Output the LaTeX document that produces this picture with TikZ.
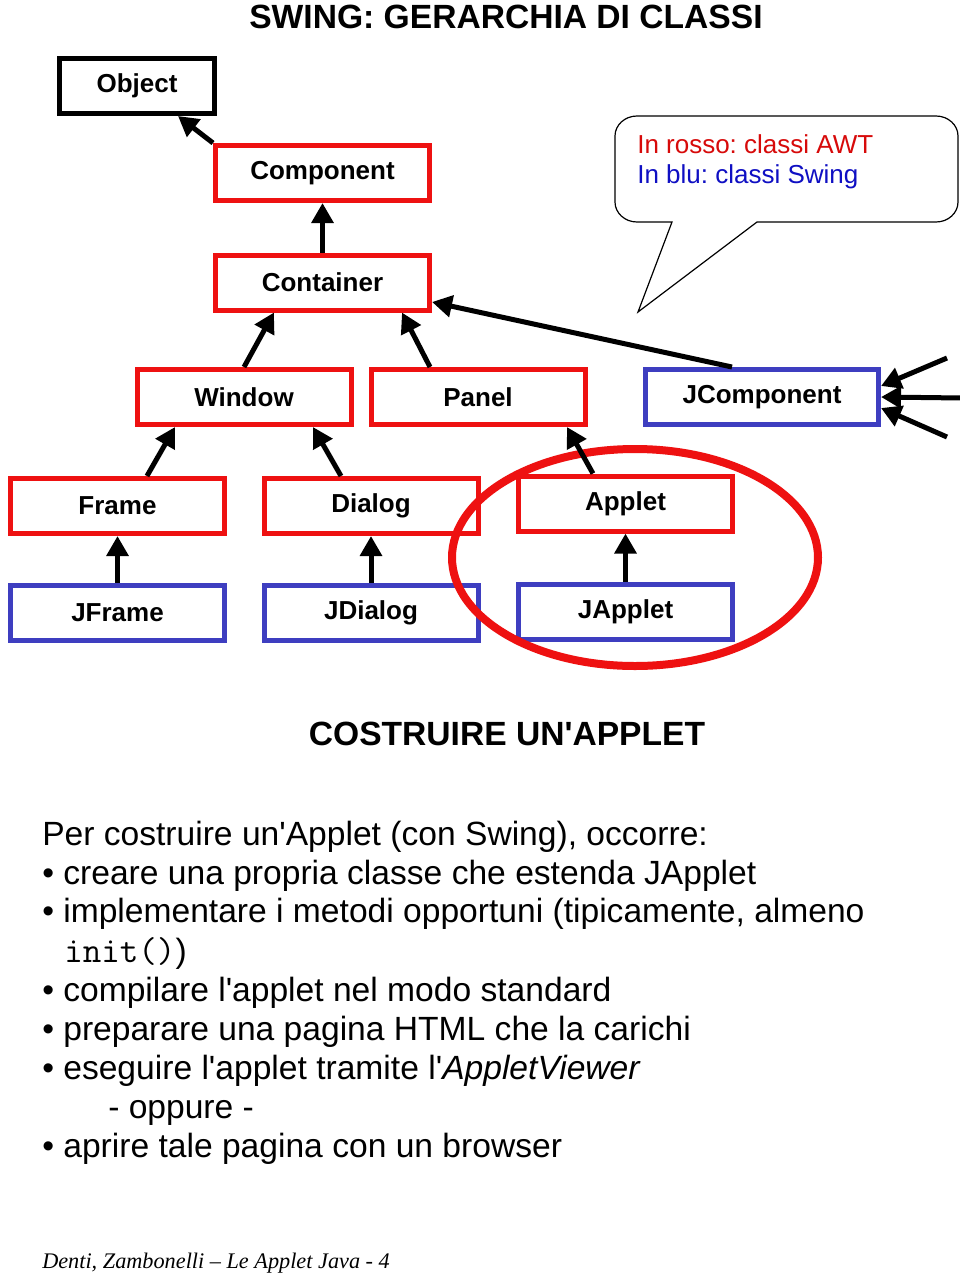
\documentclass[tikz,border=0pt]{standalone}
\usepackage{fontspec}
\setmainfont{Liberation Sans}[Ligatures=TeXOff]
\newfontfamily\footfont{Liberation Serif}
\usetikzlibrary{arrows.meta,calc}
\definecolor{awtred}{RGB}{238,17,17}
\definecolor{swingblue}{RGB}{62,62,192}
\definecolor{txtred}{RGB}{215,10,10}
\definecolor{txtblue}{RGB}{15,15,195}
\frenchspacing
\begin{document}
\begin{tikzpicture}[x=0.75pt,y=-0.75pt,
  cls/.style={draw,line width=3.75pt,minimum width=160.5pt,minimum height=41.25pt,
    inner sep=0pt,fill=white,font=\fontsize{19.5}{22}\selectfont\bfseries},
  awt/.style={cls,draw=awtred},
  swing/.style={cls,draw=swingblue},
  inh/.style={line width=3.75pt,-{Triangle[length=15pt,width=16pt]}},
  body/.style={anchor=base west,inner sep=0pt,font=\fontsize{25.2}{30}\selectfont},
  heading/.style={anchor=base,inner sep=0pt,font=\fontsize{25.2}{30}\selectfont\bfseries},
  note/.style={anchor=base west,inner sep=0pt,font=\fontsize{19.5}{22}\selectfont},
]
\useasboundingbox[fill=white] (0,0) rectangle (960,1275);

% title
\node[heading] (title) at (506,28) {SWING: GERARCHIA DI CLASSI};

% class boxes
\node[cls,draw=black,minimum width=116.25pt] (obj) at (137,86) {Object};
\node[awt] (comp) at (322.5,173) {Component};
\node[awt] (cont) at (322.5,282.5) {Container};
\node[awt] (win) at (244,397) {Window};
\node[awt] (pan) at (478,397) {Panel};
\node[swing,minimum width=174.75pt] (jcomp) at (762,397) {JComponent};
\node[awt] (frame) at (117.5,506) {Frame};
\node[awt] (dialog) at (371,506) {Dialog};
\node[awt] (applet) at (625.5,503.5) {Applet};
\node[swing] (jframe) at (117.5,613) {JFrame};
\node[swing] (jdialog) at (371,613) {JDialog};
\node[swing] (japplet) at (625.5,611.5) {JApplet};

% callout
\draw[line width=0.9pt,fill=white] (672,222) -- (638,312) -- (757,222) -- (936,222)
  arc[start angle=90,end angle=0,x radius=22,y radius=20] -- (958,136)
  arc[start angle=0,end angle=-90,x radius=22,y radius=20] -- (637,116)
  arc[start angle=-90,end angle=-180,x radius=22,y radius=20] -- (615,202)
  arc[start angle=180,end angle=90,x radius=22,y radius=20] -- cycle;
\node[note,text=txtred] (n1) at (637,153) {In rosso: classi AWT};
\node[note,text=txtblue] (n2) at (637,183) {In blu: classi Swing};

% highlight ellipse
\draw[awtred,line width=6pt] (635,557.5) ellipse [x radius=183,y radius=108.5];

% inheritance arrows
\draw[inh] (comp.north west) -- ([xshift=30.75pt]obj.south);
\draw[inh] (cont.north) -- (comp.south);
\draw[inh] (win.north) -- ([xshift=-36.4pt]cont.south);
\draw[inh] ([xshift=-36pt]pan.north) -- ([xshift=59.6pt]cont.south);
\draw[inh] ([xshift=-22.5pt]jcomp.north) -- ([yshift=-14.6pt]cont.east);
\draw[inh] ([xshift=22.1pt]frame.north) -- ([xshift=-51.75pt]win.south);
\draw[inh] ([xshift=-22.5pt]dialog.north) -- ([xshift=51.75pt]win.south);
\draw[inh] ([xshift=-24.4pt]applet.north) -- ([xshift=66.75pt]pan.south);
\draw[inh] (jframe.north) -- (frame.south);
\draw[inh] (jdialog.north) -- (dialog.south);
\draw[inh] (japplet.north) -- (applet.south);

\coordinate (r1) at (947,358);
\coordinate (r2) at (962,398);
\coordinate (r3) at (947,437);
\draw[inh] (r1) -- ([yshift=8.25pt]jcomp.east);
\draw[inh] (r2) -- (jcomp.east);
\draw[inh] (r3) -- ([yshift=-8.25pt]jcomp.east);

% second part
\node[heading] (sub) at (507,745) {COSTRUIRE UN'APPLET};
\node[body] (l0) at (42,845) {Per costruire un'Applet (con Swing), occorre:};
\node[body] (l1) at (42,884) {\textbullet\ creare una propria classe che estenda JApplet};
\node[body] (l2) at (42,922) {\textbullet\ implementare i metodi opportuni (tipicamente, almeno};
\node[body] (l3) at (64,962) {{\ttfamily\fontsize{27}{30}\selectfont init()})};
\node[body] (l4) at (42,1001) {\textbullet\ compilare l'applet nel modo standard};
\node[body] (l5) at (42,1040) {\textbullet\ preparare una pagina HTML che la carichi};
\node[body] (l6) at (42,1079) {\textbullet\ eseguire l'applet tramite l'\textit{AppletViewer}};
\node[body] (l7) at (108,1118) {- oppure -};
\node[body] (l8) at (42,1157) {\textbullet\ aprire tale pagina con un browser};

\node[anchor=base west,inner sep=0pt,font=\footfont\itshape\fontsize{16.7}{20}\selectfont] (foot) at (42,1268) {Denti, Zambonelli – Le Applet Java - 4};
\end{tikzpicture}
\end{document}
